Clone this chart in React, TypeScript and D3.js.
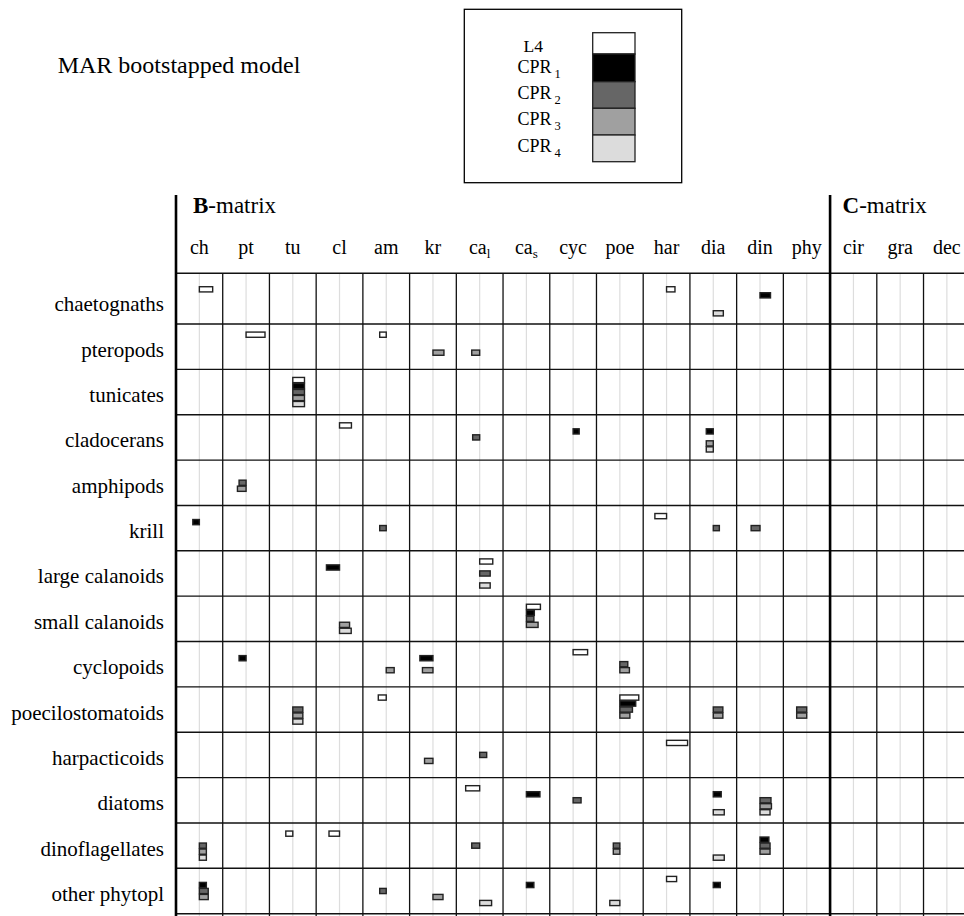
import React from 'react';
import * as d3 from 'd3';

const rowNames = [
  'chaetognaths', 'pteropods', 'tunicates', 'cladocerans', 'amphipods', 'krill',
  'large calanoids', 'small calanoids', 'cyclopoids', 'poecilostomatoids',
  'harpacticoids', 'diatoms', 'dinoflagellates', 'other phytopl',
];

const bCols = [
  { key: 'ch', label: 'ch' }, { key: 'pt', label: 'pt' }, { key: 'tu', label: 'tu' },
  { key: 'cl', label: 'cl' }, { key: 'am', label: 'am' }, { key: 'kr', label: 'kr' },
  { key: 'cal', label: 'ca', sub: 'l' }, { key: 'cas', label: 'ca', sub: 's' },
  { key: 'cyc', label: 'cyc' }, { key: 'poe', label: 'poe' }, { key: 'har', label: 'har' },
  { key: 'dia', label: 'dia' }, { key: 'din', label: 'din' }, { key: 'phy', label: 'phy' },
];
const cCols = [{ key: 'cir', label: 'cir' }, { key: 'gra', label: 'gra' }, { key: 'dec', label: 'dec' }];

const seriesNames = ['L4', 'CPR1', 'CPR2', 'CPR3', 'CPR4'];
const seriesColors = ['#ffffff', '#000000', '#666666', '#a0a0a0', '#dcdcdc'];

// [row, column, coefficient]
const L4: [string, string, number][] = [
  ['chaetognaths', 'ch', 0.57], ['chaetognaths', 'har', 0.36],
  ['pteropods', 'pt', 0.81], ['pteropods', 'am', -0.28],
  ['tunicates', 'tu', 0.5],
  ['cladocerans', 'cl', 0.51],
  ['krill', 'har', -0.5],
  ['large calanoids', 'cal', 0.56],
  ['small calanoids', 'cas', 0.6],
  ['cyclopoids', 'cyc', 0.62],
  ['poecilostomatoids', 'am', -0.34], ['poecilostomatoids', 'poe', 0.81],
  ['harpacticoids', 'har', 0.9],
  ['diatoms', 'cal', -0.6],
  ['dinoflagellates', 'tu', -0.3], ['dinoflagellates', 'cl', -0.45],
  ['other phytopl', 'har', 0.43],
];

const CPR1: [string, string, number][] = [
  ['chaetognaths', 'din', 0.45],
  ['tunicates', 'tu', 0.5],
  ['cladocerans', 'cyc', 0.26], ['cladocerans', 'dia', -0.3],
  ['krill', 'ch', -0.28],
  ['large calanoids', 'cl', -0.56],
  ['small calanoids', 'cas', 0.34],
  ['cyclopoids', 'pt', -0.3], ['cyclopoids', 'kr', -0.56],
  ['poecilostomatoids', 'poe', 0.68],
  ['diatoms', 'cas', 0.58], ['diatoms', 'dia', 0.34],
  ['dinoflagellates', 'din', 0.38],
  ['other phytopl', 'ch', 0.3], ['other phytopl', 'cas', 0.32], ['other phytopl', 'dia', 0.3],
];

const CPR2: [string, string, number][] = [
  ['tunicates', 'tu', 0.5],
  ['cladocerans', 'cal', -0.3],
  ['amphipods', 'pt', -0.3],
  ['krill', 'am', -0.28], ['krill', 'dia', 0.26], ['krill', 'din', -0.38],
  ['large calanoids', 'cal', 0.45],
  ['small calanoids', 'cas', 0.32],
  ['cyclopoids', 'poe', 0.34],
  ['poecilostomatoids', 'tu', 0.43], ['poecilostomatoids', 'poe', 0.54],
  ['poecilostomatoids', 'dia', 0.41], ['poecilostomatoids', 'phy', -0.43],
  ['harpacticoids', 'cal', 0.3],
  ['diatoms', 'cyc', 0.34], ['diatoms', 'din', 0.47],
  ['dinoflagellates', 'ch', 0.3], ['dinoflagellates', 'cal', -0.34],
  ['dinoflagellates', 'poe', -0.28], ['dinoflagellates', 'din', 0.43],
  ['other phytopl', 'ch', 0.38], ['other phytopl', 'am', -0.28],
];

const CPR3: [string, string, number][] = [
  ['pteropods', 'kr', 0.47], ['pteropods', 'cal', -0.34],
  ['tunicates', 'tu', 0.5],
  ['cladocerans', 'dia', -0.3],
  ['amphipods', 'pt', -0.37],
  ['small calanoids', 'cl', 0.43], ['small calanoids', 'cas', 0.5],
  ['cyclopoids', 'am', 0.34], ['cyclopoids', 'kr', -0.45], ['cyclopoids', 'poe', 0.41],
  ['poecilostomatoids', 'tu', 0.43], ['poecilostomatoids', 'poe', 0.43],
  ['poecilostomatoids', 'dia', 0.41], ['poecilostomatoids', 'phy', -0.43],
  ['harpacticoids', 'kr', -0.36],
  ['diatoms', 'din', 0.49],
  ['dinoflagellates', 'ch', 0.3], ['dinoflagellates', 'poe', -0.28], ['dinoflagellates', 'din', 0.43],
  ['other phytopl', 'ch', 0.38], ['other phytopl', 'kr', 0.43],
];

const CPR4: [string, string, number][] = [
  ['chaetognaths', 'dia', 0.43],
  ['tunicates', 'tu', 0.5],
  ['cladocerans', 'dia', -0.3],
  ['large calanoids', 'cal', 0.45],
  ['small calanoids', 'cl', 0.5],
  ['poecilostomatoids', 'tu', 0.43],
  ['diatoms', 'dia', 0.47], ['diatoms', 'din', 0.43],
  ['dinoflagellates', 'ch', 0.3], ['dinoflagellates', 'dia', 0.47],
  ['other phytopl', 'cal', 0.51], ['other phytopl', 'poe', -0.43],
];

const seriesData = [L4, CPR1, CPR2, CPR3, CPR4];

const W = 964;
const H = 916;
const FONT = '"Liberation Serif", "Times New Roman", serif';

const allCols = [...bCols, ...cCols];
const colW = 46.72;
const gridLeft = 176;
const rowH = 45.36;
const rowTop = 278.64;
const headerLine = 273.3;
const gridBottom = rowTop + rowH * rowNames.length;

const x = d3.scaleBand<string>()
  .domain(allCols.map(c => c.key))
  .range([gridLeft, gridLeft + colW * allCols.length]);

const y = d3.scaleBand<string>()
  .domain(rowNames)
  .range([rowTop, gridBottom]);

// five slots inside a cell, one per series
const slot = d3.scaleBand<string>()
  .domain(seriesNames)
  .range([7.68, 37.68]);

const bar = d3.scaleLinear().domain([-1, 1]).range([-colW / 2, colW / 2]);

const legendY = [32.7, 54, 81.7, 108.3, 135, 161.7];
const legendBase = [51.8, 72.5, 98.5, 125, 151.7];

export default function App() {
  const dividerX = x('cir') as number;
  const colLines = allCols.slice(1).map(c => x(c.key) as number);

  return (
    <svg width={W} height={H} style={{ position: 'absolute', left: 0, top: 0, background: '#fff' }}
      fontFamily={FONT}>
      <rect width={W} height={H} fill="#fff" />

      <text x={57.7} y={73.3} fontSize={24}>MAR bootstapped model</text>

      {/* legend */}
      <rect x={464.3} y={9.3} width={217.4} height={173.4} fill="none" stroke="#000" strokeWidth={1.3} />
      {seriesNames.map((s, i) => (
        <rect key={s} x={592.7} y={legendY[i]} width={42.3} height={legendY[i + 1] - legendY[i]}
          fill={seriesColors[i]} stroke="#222" strokeWidth={1.3} />
      ))}
      {seriesNames.map((s, i) => (
        i === 0
          ? <text key={s} x={523.5} y={legendBase[i]} fontSize={17.5}>L4</text>
          : <text key={s} x={517.5} y={legendBase[i]} fontSize={18}>
              CPR<tspan dx={3} dy={5} fontSize={12.5}>{s.slice(3)}</tspan>
            </text>
      ))}

      {/* matrix titles */}
      <text x={193} y={212.5} fontSize={23}>
        <tspan fontWeight="bold">B</tspan>-matrix
      </text>
      <text x={842.5} y={212.5} fontSize={23}>
        <tspan fontWeight="bold">C</tspan>-matrix
      </text>

      {/* column labels */}
      {allCols.map(c => (
        <text key={c.key} x={(x(c.key) as number) + colW / 2} y={254} fontSize={20} textAnchor="middle">
          {c.label}
          {'sub' in c && c.sub ? <tspan dy={4} fontSize={13}>{c.sub}</tspan> : null}
        </text>
      ))}

      {/* row labels */}
      {rowNames.map(r => (
        <text key={r} x={164} y={(y(r) as number) + rowH / 2 + 10} fontSize={21} textAnchor="end">{r}</text>
      ))}

      {/* light zero lines */}
      {allCols.map(c => (
        <line key={c.key} x1={(x(c.key) as number) + colW / 2} x2={(x(c.key) as number) + colW / 2}
          y1={headerLine} y2={H} stroke="#dddddd" strokeWidth={1.2} />
      ))}

      {/* grid */}
      <line x1={gridLeft} x2={W} y1={headerLine} y2={headerLine} stroke="#111" strokeWidth={1.4} />
      {rowNames.map(r => {
        const yy = (y(r) as number) + rowH;
        return <line key={r} x1={gridLeft} x2={W} y1={yy} y2={yy} stroke="#111" strokeWidth={1.4} />;
      })}
      {colLines.filter(cx => Math.abs(cx - dividerX) > 1).map(cx => (
        <line key={cx} x1={cx} x2={cx} y1={headerLine} y2={H} stroke="#111" strokeWidth={1.3} />
      ))}
      <line x1={gridLeft} x2={gridLeft} y1={195} y2={H} stroke="#000" strokeWidth={2.6} />
      <line x1={dividerX} x2={dividerX} y1={195} y2={H} stroke="#000" strokeWidth={2.6} />

      {/* bars */}
      {seriesData.map((data, si) => data.map(([r, c, v]) => {
        const cx = (x(c) as number) + colW / 2;
        const y0 = (y(r) as number) + (slot(seriesNames[si]) as number);
        return (
          <rect key={`${si}-${r}-${c}`} x={cx + Math.min(0, bar(v))} y={y0 + 0.4}
            width={Math.abs(bar(v))} height={slot.bandwidth() - 0.8}
            fill={seriesColors[si]} stroke="#222" strokeWidth={1.4} />
        );
      }))}
    </svg>
  );
}
